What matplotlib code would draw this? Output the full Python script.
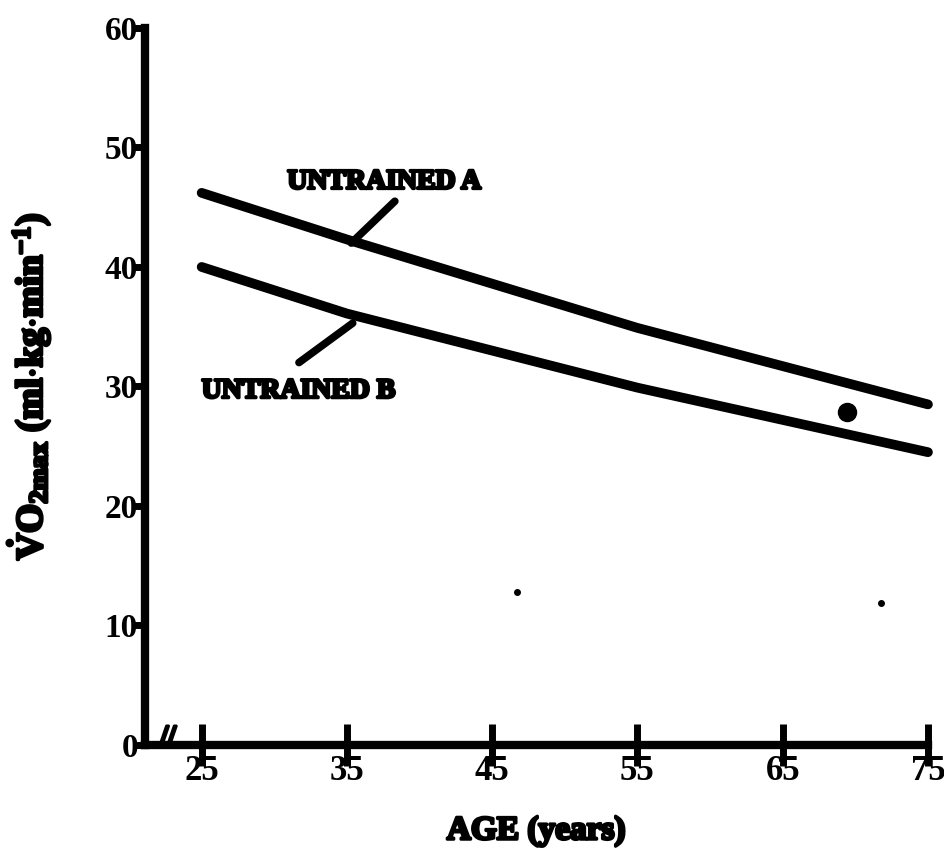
import matplotlib.pyplot as plt
import matplotlib.patheffects as pe

plt.rcParams['font.family'] = 'Liberation Serif'
plt.rcParams['font.weight'] = 'bold'
plt.rcParams['mathtext.fontset'] = 'custom'
plt.rcParams['mathtext.rm'] = 'Liberation Serif:bold'
plt.rcParams['mathtext.it'] = 'Liberation Serif:bold'
plt.rcParams['mathtext.bf'] = 'Liberation Serif:bold'

# regression lines, VO2max vs age
age = [25, 35, 55, 75]
untrained_a = [46.2, 42.3, 34.9, 28.5]
untrained_b = [40.0, 36.1, 29.9, 24.5]

# single points
pt_age = [69.4]
pt_vo2 = [27.9]
speck_age = [46.7, 71.8]
speck_vo2 = [12.8, 11.9]

xticks = [25, 35, 45, 55, 65, 75]
yticks = [0, 10, 20, 30, 40, 50, 60]


def heavy():
    return [pe.withStroke(linewidth=2.2, foreground='black')]


fig = plt.figure(figsize=(9.44, 8.55), dpi=100)
ax = fig.add_axes([0.1536, 0.1287, 0.8294, 0.8386])

for s in ['top', 'right']:
    ax.spines[s].set_visible(False)
for s in ['left', 'bottom']:
    ax.spines[s].set_linewidth(6)

ax.set_xlim(21.1, 75)
ax.set_ylim(0, 60)
ax.set_xticks(xticks)
ax.set_yticks(yticks)
ax.set_xticklabels([str(v) for v in xticks], fontsize=25, fontweight='bold')
ax.set_yticklabels([str(v) for v in yticks], fontsize=24, fontweight='bold')
ax.tick_params(axis='y', direction='out', length=8, width=5, pad=-3)
ax.tick_params(axis='x', direction='inout', length=30, width=5, pad=-8)

lw = 7
ax.plot(age, untrained_a, color='black', lw=lw, solid_capstyle='round', clip_on=False)
ax.plot(age, untrained_b, color='black', lw=lw, solid_capstyle='round', clip_on=False)
ax.plot(pt_age, pt_vo2, 'o', color='black', ms=13, clip_on=False)
ax.plot(speck_age, speck_vo2, 'o', color='black', ms=4, clip_on=False)

# labels with leader lines
ax.text(30.9, 47.1, 'UNTRAINED A', fontsize=20, fontweight='bold', ha='left', va='center',
        path_effects=heavy())
ax.plot([38.3, 35.3], [45.5, 42.0], color='black', lw=5.5, solid_capstyle='round')
ax.text(25.0, 29.6, 'UNTRAINED B', fontsize=20, fontweight='bold', ha='left', va='center',
        path_effects=heavy())
ax.plot([31.7, 35.4], [32.0, 35.3], color='black', lw=5.5, solid_capstyle='round')

# axis break near the origin
ax.text(22.7, 0.6, '//', fontsize=20, fontweight='bold', ha='center', va='center',
        path_effects=heavy())

ax.set_xlabel('AGE (years)', fontsize=24, fontweight='bold', labelpad=20, path_effects=heavy())
ax.set_ylabel(r'$\dot{\mathrm{V}}\mathrm{O}_{2\mathrm{max}}$ (ml$\cdot$kg$\cdot$min$^{-1}$)',
              fontsize=27, fontweight='bold', labelpad=38, path_effects=heavy())

fig.savefig('out.png', dpi=100)
